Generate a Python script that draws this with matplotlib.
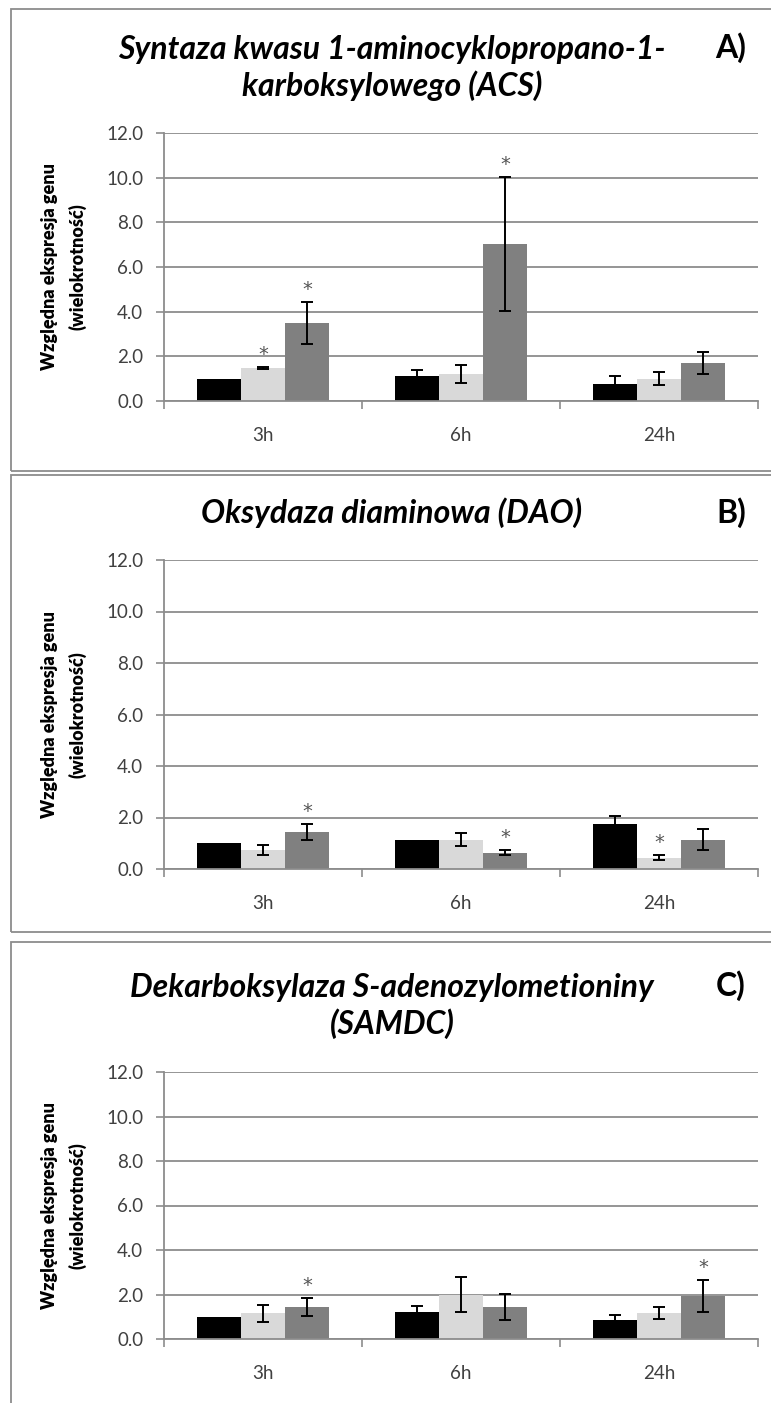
import matplotlib.pyplot as plt
from matplotlib.patches import Rectangle

W, H = 771, 1403

categories = ['3h', '6h', '24h']

# ACS
acs_black = [1.0, 1.12, 0.75]
acs_black_err = [0.0, 0.27, 0.35]
acs_light = [1.48, 1.2, 1.0]
acs_light_err = [0.06, 0.39, 0.3]
acs_dark = [3.5, 7.05, 1.7]
acs_dark_err = [0.95, 3.0, 0.5]
acs_stars = [(1, 0), (2, 0), (2, 1)]  # (series, category)

# DAO
dao_black = [1.0, 1.14, 1.76]
dao_black_err = [0.0, 0.0, 0.3]
dao_light = [0.75, 1.14, 0.44]
dao_light_err = [0.2, 0.24, 0.1]
dao_dark = [1.44, 0.64, 1.14]
dao_dark_err = [0.32, 0.1, 0.4]
dao_stars = [(2, 0), (2, 1), (1, 2)]

# SAMDC
samdc_black = [1.0, 1.23, 0.86]
samdc_black_err = [0.0, 0.27, 0.2]
samdc_light = [1.16, 2.0, 1.16]
samdc_light_err = [0.39, 0.79, 0.28]
samdc_dark = [1.44, 1.44, 1.92]
samdc_dark_err = [0.4, 0.57, 0.72]
samdc_stars = [(2, 0), (2, 2)]

colors = ['#000000', '#d9d9d9', '#808080']
grid_col = '#8c8c8c'
text_col = '#404040'

plt.rcParams['font.family'] = ['Lato', 'DejaVu Sans']

fig = plt.figure(figsize=(W / 100, H / 100), dpi=100)


def fx(px):
    return px / W


def fy(py):
    return 1 - py / H


def panel(box, ax_box, title, title_y, letter, means, errs, stars):
    # ramka wokol wykresu
    top, bottom = box
    fig.add_artist(Rectangle((fx(11), fy(bottom)), fx(800), (bottom - top) / H,
                             transform=fig.transFigure, fill=False,
                             edgecolor=grid_col, lw=1.3))
    fig.text(fx(392), fy(title_y), title, ha='center', va='center',
             fontsize=23, fontweight='bold', style='italic',
             linespacing=1.27)
    first_line_y = title_y - (20 if '\n' in title else 0)
    fig.text(fx(731), fy(first_line_y), letter, ha='center', va='center',
             fontsize=23, fontweight='bold')

    ax_top, ax_bottom = ax_box
    ax = fig.add_axes([fx(164), fy(ax_bottom), (758 - 164) / W,
                       (ax_bottom - ax_top) / H])
    w = 1 / 4.5
    x = list(range(len(categories)))
    for i, (m, e) in enumerate(zip(means, errs)):
        pos = [c + (i - 1) * w for c in x]
        ax.bar(pos, m, width=w, color=colors[i], zorder=2)
        # slupki bledow tylko tam, gdzie sa
        ep = [p for p, v in zip(pos, e) if v > 0]
        em = [mm for mm, v in zip(m, e) if v > 0]
        ev = [v for v in e if v > 0]
        ax.errorbar(ep, em, yerr=ev, fmt='none', ecolor='black',
                    elinewidth=1.4, capsize=4.5, capthick=1.4, zorder=3)
    for s, c in stars:
        xs = c + (s - 1) * w
        ax.annotate('*', xy=(xs, means[s][c] + errs[s][c]), xytext=(0, 5),
                    textcoords='offset points', ha='center', va='baseline',
                    fontsize=14, color='#555555', family='DejaVu Sans')

    ax.set_xlim(-0.5, 2.5)
    ax.set_ylim(0, 12)
    ax.set_yticks(range(0, 13, 2))
    ax.set_yticklabels([f'{v:.1f}' for v in range(0, 13, 2)])
    ax.set_xticks(x)
    ax.set_xticklabels(categories)
    ax.set_xticks([-0.5, 0.5, 1.5, 2.5], minor=True)
    ax.tick_params(axis='y', length=6, width=1.2, color=grid_col,
                   labelsize=13.5, labelcolor=text_col, pad=9)
    ax.tick_params(axis='x', which='major', length=0, labelsize=13.5,
                   labelcolor=text_col, pad=19)
    ax.tick_params(axis='x', which='minor', length=6, width=1.2,
                   color=grid_col)
    ax.yaxis.grid(True, color=grid_col, lw=1.3)
    ax.set_axisbelow(True)
    for side in ['top', 'right']:
        ax.spines[side].set_visible(False)
    for side in ['left', 'bottom']:
        ax.spines[side].set_color(grid_col)
        ax.spines[side].set_linewidth(1.3)

    ax.text(-0.193, 0.5, 'Względna ekspresja genu', transform=ax.transAxes,
            rotation=90, ha='center', va='center', fontsize=13,
            fontweight='heavy')
    ax.text(-0.145, 0.5, '(wielokrotność)', transform=ax.transAxes,
            rotation=90, ha='center', va='center', fontsize=13,
            fontweight='heavy')
    return ax


panel((9, 471), (133, 401),
      'Syntaza kwasu 1-aminocyklopropano-1-\nkarboksylowego (ACS)', 68, 'A)',
      [acs_black, acs_light, acs_dark],
      [acs_black_err, acs_light_err, acs_dark_err], acs_stars)

panel((475, 932), (560, 869),
      'Oksydaza diaminowa (DAO)', 513, 'B)',
      [dao_black, dao_light, dao_dark],
      [dao_black_err, dao_light_err, dao_dark_err], dao_stars)

panel((942, 1420), (1072, 1339),
      'Dekarboksylaza S-adenozylometioniny\n(SAMDC)', 1006, 'C)',
      [samdc_black, samdc_light, samdc_dark],
      [samdc_black_err, samdc_light_err, samdc_dark_err], samdc_stars)

fig.savefig('out.png', dpi=100, facecolor='white')
